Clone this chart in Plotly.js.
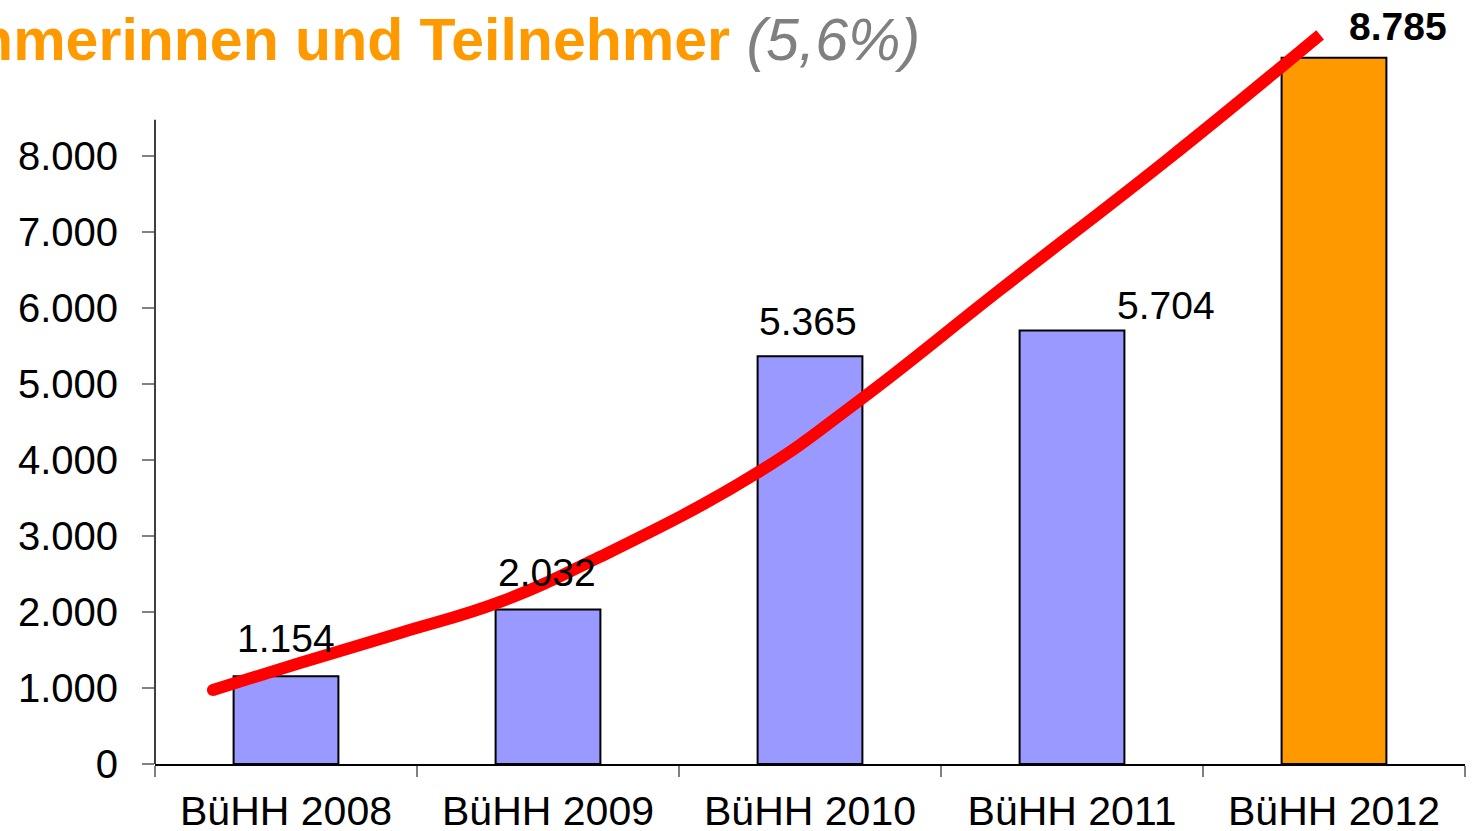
<!DOCTYPE html>
<html>
<head>
<meta charset="utf-8">
<script src="https://cdn.plot.ly/plotly-3.0.1.min.js"></script>
<style>html,body{margin:0;padding:0;background:#fff;}#chart{width:1472px;height:831px;}</style>
</head>
<body>
<div id="chart"></div>
<script>
const categories = ["BüHH 2008", "BüHH 2009", "BüHH 2010", "BüHH 2011", "BüHH 2012"];
// bar heights as drawn in the picture (the 2012 bar is drawn taller than its label)
const barHeights = [1154, 2032, 5365, 5704, 9290];
const valueLabels = ["1.154", "2.032", "5.365", "5.704", "8.785"];
const barColors = ["#9999FF", "#9999FF", "#9999FF", "#9999FF", "#FF9900"];
const yTickVals = [0, 1000, 2000, 3000, 4000, 5000, 6000, 7000, 8000];
const yTickText = ["0", "1.000", "2.000", "3.000", "4.000", "5.000", "6.000", "7.000", "8.000"];
// hand-drawn red trend curve (position in category units, value)
const trendX = [-0.279, 0.053, 0.435, 0.817, 1.198, 1.798, 2.191, 2.725, 3.363, 3.947];
const trendY = [974, 1329, 1724, 2132, 2724, 3829, 4789, 6237, 7947, 9592];
const titleMain = "Teilnehmerinnen und Teilnehmer";
const titleNote = "(5,6%)";

const FONT = "Liberation Sans, Arial, sans-serif";

const bars = {
  type: "bar",
  x: categories,
  y: barHeights,
  width: 0.4,
  marker: {color: barColors, line: {color: "#000000", width: 2}},
  hoverinfo: "skip",
  showlegend: false
};
const trend = {
  type: "scatter",
  mode: "lines",
  x: trendX,
  y: trendY,
  xaxis: "x2",
  yaxis: "y",
  line: {color: "#FF0000", width: 12, shape: "spline", smoothing: 1.2},
  hoverinfo: "skip",
  showlegend: false
};
const trendStart = {
  type: "scatter",
  mode: "markers",
  x: [trendX[0]],
  y: [trendY[0]],
  xaxis: "x2",
  yaxis: "y",
  marker: {color: "#FF0000", size: 12},
  cliponaxis: false,
  hoverinfo: "skip",
  showlegend: false
};

const labelShift = [
  {xs: 0, ys: 38, bold: false},
  {xs: -1, ys: 37, bold: false},
  {xs: -2, ys: 35, bold: false},
  {xs: 94, ys: 25, bold: false},
  {xs: 64, ys: 31, bold: true}
];
const annotations = categories.map((c, i) => ({
  x: c, y: barHeights[i], xref: "x", yref: "y",
  text: labelShift[i].bold ? "<b>" + valueLabels[i] + "</b>" : valueLabels[i],
  showarrow: false, xanchor: "center", yanchor: "middle",
  xshift: labelShift[i].xs, yshift: labelShift[i].ys,
  font: {family: FONT, size: 39, color: "#000000"}
}));
annotations.push({
  xref: "paper", yref: "paper", x: 0.5855, y: 0.972,
  xanchor: "right", yanchor: "middle", showarrow: false,
  text: "<b>" + titleMain + "</b> <span style='color:#808080'><i>" + titleNote + "</i></span>",
  font: {family: FONT, size: 59, color: "#FF9900"}
});

const layout = {
  width: 1472, height: 831,
  margin: {l: 155, r: 7, t: 19, b: 67},
  paper_bgcolor: "#ffffff", plot_bgcolor: "#ffffff",
  bargap: 0.6,
  xaxis: {
    type: "category",
    showline: true, linecolor: "#000000", linewidth: 1.5,
    ticks: "outside", tickson: "boundaries", ticklen: 11, tickcolor: "#808080", tickwidth: 1.5,
    showgrid: false, zeroline: false,
    tickfont: {family: FONT, size: 41, color: "#000000"},
    ticklabelstandoff: 10,
    fixedrange: true
  },
  xaxis2: {
    overlaying: "x", range: [-0.5, 4.5], visible: false, fixedrange: true
  },
  yaxis: {
    range: [0, 9800],
    showline: false, showgrid: false, zeroline: false,
    tickvals: yTickVals, ticktext: yTickText,
    ticks: "outside", ticklen: 12, tickcolor: "#808080", tickwidth: 1.5,
    tickfont: {family: FONT, size: 40, color: "#000000"},
    ticklabelstandoff: 16,
    fixedrange: true
  },
  shapes: [{
    type: "line", xref: "paper", yref: "y", x0: 0, x1: 0, y0: 0, y1: 8474,
    line: {color: "#000000", width: 1.5}
  }],
  annotations: annotations,
  showlegend: false
};

Plotly.newPlot("chart", [bars, trend, trendStart], layout, {displayModeBar: false, staticPlot: true});
</script>
</body>
</html>
